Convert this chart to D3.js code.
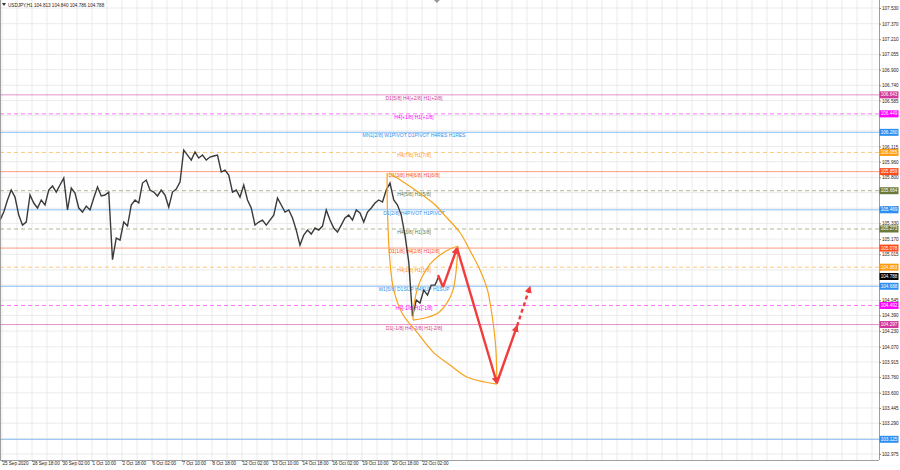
<!DOCTYPE html>
<html><head><meta charset="utf-8">
<script src="https://cdn.jsdelivr.net/npm/d3@7"></script>
<style>body{margin:0;background:#fff}svg{display:block;font-family:"Liberation Sans",Arial,sans-serif}</style>
</head><body><svg id="c" width="900" height="470"></svg>
<script>
// ---------- data ----------
const closePrices = [105.364,105.446,105.569,105.671,105.599,105.415,105.313,105.344,105.620,105.538,
105.487,105.569,105.518,105.671,105.712,105.650,105.722,105.793,105.467,105.691,
105.640,105.487,105.446,105.507,105.467,105.589,105.702,105.610,105.620,105.650,
104.960,105.181,105.160,105.344,105.303,105.518,105.569,105.538,105.742,105.773,
105.671,105.650,105.610,105.671,105.620,105.497,105.650,105.681,105.753,106.080,
106.028,105.977,106.059,105.998,106.028,105.977,106.008,106.018,106.028,105.855,
105.875,105.824,105.650,105.671,105.599,105.722,105.569,105.487,105.313,105.344,
105.364,105.313,105.364,105.415,105.589,105.518,105.446,105.467,105.385,105.262,
105.109,105.211,105.262,105.221,105.283,105.262,105.303,105.467,105.364,105.283,
105.242,105.313,105.385,105.415,105.364,105.467,105.436,105.344,105.446,105.487,
105.538,105.569,105.548,105.671,105.742,105.569,105.518,105.415,105.211,104.936,
104.380,104.547,104.517,104.649,104.598,104.700,104.700,104.788];
const barStep = 4; // one close value every 4 H1 bars

const timeLabels = ["25 Sep 2020","28 Sep 18:00","30 Sep 02:00","1 Oct 10:00","2 Oct 18:00","6 Oct 02:00",
"7 Oct 10:00","8 Oct 18:00","12 Oct 02:00","13 Oct 10:00","14 Oct 18:00","16 Oct 02:00","19 Oct 10:00",
"20 Oct 18:00","22 Oct 02:00"];
const timeLabelBars = [2,34,66,98,130,162,194,226,258,290,322,354,386,418,450];

const priceTicks = [107.530,107.370,107.210,107.055,106.900,106.740,106.585,106.430,106.275,106.115,
105.960,105.800,105.645,105.485,105.330,105.170,105.015,104.855,104.700,104.545,104.390,104.230,
104.070,103.915,103.760,103.600,103.445,103.290,103.130,102.975];
// tick labels fully covered by the level price boxes in the reference
const hiddenTicks = [106.430,106.275,105.645,104.855,104.700,103.130];

const levelPrices = [106.643,106.449,106.260,106.055,105.859,105.664,105.469,105.273,105.078,104.883,104.688,104.492,104.297,103.125];
const levelLabels = ["D1[5/8] H4[+2/8] H1[+2/8]","H4[+1/8] H1[+1/8]","MN1[2/8] W1PIVOT D1PIVOT H4RES H1RES",
"H4[7/8] H1[7/8]","D1[3/8] H4[6/8] H1[6/8]","H4[5/8] H1[5/8]","D1[2/8] H4PIVOT H1PIVOT","H4[3/8] H1[3/8]",
"D1[1/8] H4[2/8] H1[2/8]","H4[1/8] H1[1/8]","W1[5/8] D1SUP H4SUP H1SUP","H4[-1/8] H1[-1/8]","D1[-1/8] H4[-2/8] H1[-2/8]",""];
const levelColors = ["#d0389a","#ff00ff","#2f8ff0","#ff9a10","#ff4a1a","#6b7a3a","#2f8ff0","#6b7a3a",
"#ff4a1a","#ff9a10","#2f8ff0","#ff00ff","#d0389a","#2f8ff0"];
const levelDashed = [false,true,false,true,false,true,false,true,false,true,false,true,false,false];

const currentPrice = 104.788;
const titleText = "USDJPY,H1  104.813 104.840 104.786 104.788";

// arcs [bar, price]
const bigArcLeft = [[413,105.845],[413,105.569],[414,105.262],[416,104.936],[420,104.649],[430,104.394],
[443,104.241],[462,104.016],[480,103.883],[498,103.761],[517,103.71],[530,103.689]];
const bigArcRight = [[415,105.845],[427,105.774],[443,105.671],[462,105.538],[477,105.385],[491,105.232],
[501,105.058],[512,104.854],[520,104.649],[524,104.445],[527,104.241],[529,104.037],[530,103.689]];
const smallArcUpper = [[440.5,104.343],[441.6,104.497],[444.8,104.649],[450.1,104.782],[458.7,104.915],
[469.3,105.007],[480,105.068],[488.5,105.099]];
const smallArcLower = [[440.5,104.343],[453.3,104.364],[467.2,104.415],[476.8,104.518],[483.2,104.649],
[486.4,104.833],[488.5,105.099]];
// projection [bar, price]
const projSolid = [[467.2,104.803],[472.5,104.68],[487.5,105.078],[530,103.70],[551.5,104.282]];
const projDashed = [[551.5,104.282],[565.3,104.68]];

// ---------- drawing ----------
const svg = d3.select("#c");
const plotR = 879, plotB = 460;
const x = d3.scaleLinear().domain([0, 937.6]).range([0, plotR]);
const y = d3.scaleLinear().domain([107.53, 102.975]).range([8, 454]);
const font = 5, axFont = 4.6;

const defs = svg.append("defs");
defs.append("marker").attr("id","arr").attr("viewBox","0 0 10 10").attr("refX",8).attr("refY",5)
  .attr("markerWidth",3).attr("markerHeight",3).attr("orient","auto")
  .append("path").attr("d","M0,0L10,5L0,10z").attr("fill","#f03c3c");
defs.append("clipPath").attr("id","clip").append("rect").attr("x",0).attr("y",0).attr("width",plotR).attr("height",plotB);

const g = svg.append("g").attr("clip-path","url(#clip)");

// grid
const vgrid = d3.range(0, 60).map(k => 2.13 + 16*k);
g.selectAll(".vg").data(vgrid).enter().append("line")
  .attr("x1",d=>x(d)).attr("x2",d=>x(d)).attr("y1",0).attr("y2",plotB)
  .attr("stroke","#e6e6e6").attr("stroke-width",0.8);
g.selectAll(".hg").data(priceTicks).enter().append("line")
  .attr("x1",0).attr("x2",plotR).attr("y1",d=>y(d)).attr("y2",d=>y(d))
  .attr("stroke","#e6e6e6").attr("stroke-width",0.8);

// level lines
levelPrices.forEach((p,i)=>{
  g.append("line").attr("x1",0).attr("x2",plotR).attr("y1",y(p)).attr("y2",y(p))
   .attr("stroke",levelColors[i]).attr("stroke-opacity",0.55).attr("stroke-width",1)
   .attr("stroke-dasharray",levelDashed[i]?"4,3":null);
  if (levelLabels[i]) {
    g.append("text").attr("x",414).attr("y",y(p)+1).attr("dominant-baseline","hanging")
     .attr("text-anchor","middle").attr("font-size",font).attr("fill",levelColors[i]).text(levelLabels[i]);
  }
});

// price line
const line = d3.line().x(d=>x(d[0])).y(d=>y(d[1]));
g.append("path").datum(closePrices.map((p,i)=>[i*barStep,p]))
  .attr("d",line).attr("fill","none").attr("stroke","#3a3a3a").attr("stroke-width",1.4);

// arcs
const curve = d3.line().x(d=>x(d[0])).y(d=>y(d[1])).curve(d3.curveCatmullRom);
[bigArcLeft,bigArcRight,smallArcUpper,smallArcLower].forEach(a=>{
  g.append("path").datum(a).attr("d",curve).attr("fill","none").attr("stroke","#f7a21b").attr("stroke-width",1.2);
});

// projection
for (let i=0;i<projSolid.length-1;i++){
  g.append("path").datum([projSolid[i],projSolid[i+1]]).attr("d",line).attr("fill","none")
   .attr("stroke","#f03c3c").attr("stroke-width",2.4)
   .attr("marker-end", i>0 ? "url(#arr)" : null);
}
g.append("path").datum(projDashed).attr("d",line).attr("fill","none").attr("stroke","#f03c3c")
 .attr("stroke-width",2.4).attr("stroke-dasharray","4,3").attr("marker-end","url(#arr)");

// frame
svg.append("line").attr("x1",plotR+0.5).attr("x2",plotR+0.5).attr("y1",0).attr("y2",plotB).attr("stroke","#888").attr("stroke-width",0.8);
svg.append("line").attr("x1",0).attr("x2",plotR).attr("y1",plotB+0.5).attr("y2",plotB+0.5).attr("stroke","#888").attr("stroke-width",0.8);
svg.append("line").attr("x1",0.5).attr("x2",0.5).attr("y1",0).attr("y2",plotB).attr("stroke","#888").attr("stroke-width",0.8);

// right axis
const ya = d3.axisRight(y).tickValues(priceTicks)
  .tickFormat(d => hiddenTicks.includes(d) ? "" : d3.format(".3f")(d)).tickSize(2);
const yg = svg.append("g").attr("transform",`translate(${plotR},0)`).call(ya);
yg.select(".domain").remove();
yg.selectAll("text").attr("font-size",axFont).attr("fill","#222").attr("x",3);
yg.selectAll("line").attr("stroke","#888");

// bottom axis
const xa = d3.axisBottom(x).tickValues(timeLabelBars).tickFormat((d,i)=>timeLabels[i]).tickSize(2);
const xg = svg.append("g").attr("transform",`translate(0,${plotB})`).call(xa);
xg.select(".domain").remove();
xg.selectAll("text").attr("font-size",axFont).attr("fill","#222").attr("text-anchor","start").attr("dy","0.3em").attr("y",3.5);
xg.selectAll("line").attr("stroke","#888");

// price boxes
const boxes = levelPrices.map((p,i)=>({p, c:levelColors[i]})).concat([{p:currentPrice,c:"#000"}]);
boxes.forEach(b=>{
  svg.append("rect").attr("x",plotR+0.5).attr("y",y(b.p)-3.5).attr("width",19).attr("height",7).attr("fill",b.c);
  svg.append("text").attr("x",plotR+10).attr("y",y(b.p)).attr("dominant-baseline","central")
    .attr("text-anchor","middle").attr("font-size",axFont).attr("fill","#fff").text(b.p.toFixed(3));
});

// title
svg.append("path").attr("d","M2,3L6,3L4,6z").attr("fill","#333");
svg.append("text").attr("x",8).attr("y",5).attr("dominant-baseline","central").attr("font-size",axFont).attr("fill","#222").text(titleText);
// shift marker
svg.append("path").attr("d",`M${x(466)-3},0L${x(466)+3},0L${x(466)},3z`).attr("fill","#999");
</script></body></html>
